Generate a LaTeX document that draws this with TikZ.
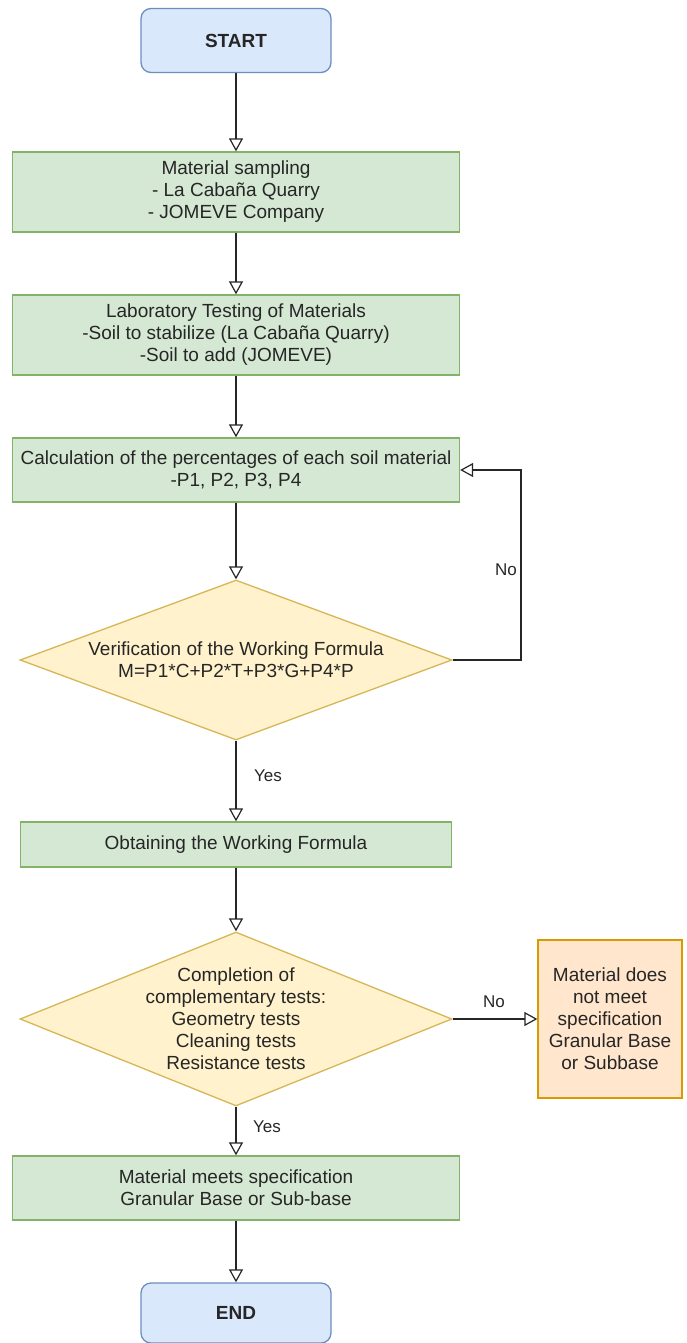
\documentclass[tikz,border=0pt]{standalone}
\usepackage{fontspec}
\setmainfont{Liberation Sans}
\usetikzlibrary{shapes.geometric,arrows.meta}
\definecolor{gfill}{HTML}{D5E8D4}
\definecolor{gdraw}{HTML}{82B366}
\definecolor{bfill}{HTML}{DAE8FC}
\definecolor{bdraw}{HTML}{6C8EBF}
\definecolor{yfill}{HTML}{FFF2CC}
\definecolor{ydraw}{HTML}{D6B656}
\definecolor{ofill}{HTML}{FFE6CC}
\definecolor{odraw}{HTML}{D79B00}
\definecolor{txt}{HTML}{262626}
\begin{document}
\begin{tikzpicture}[x=1pt,y=-1pt,
  font=\fontsize{19}{22}\selectfont, text=txt,
  term/.style={draw=bdraw, fill=bfill, line width=1.3pt, rounded corners=10pt,
    minimum width=190pt, minimum height=64pt, inner sep=0pt, font=\fontsize{19}{22}\selectfont\bfseries},
  proc/.style={draw=gdraw, fill=gfill, line width=1.3pt, minimum width=447pt, inner sep=0pt, align=center},
  dec/.style={draw=ydraw, fill=yfill, line width=1.3pt, diamond, inner sep=0pt, minimum width=432pt},
  dtext/.style={align=center, inner sep=0pt},
  fail/.style={draw=odraw, fill=ofill, line width=1.3pt, minimum width=144pt, minimum height=158pt, inner sep=0pt, align=center},
  arr/.style={draw=black!85, line width=1.2pt, -{Triangle[open, length=13pt, width=14pt]}},
  lbl/.style={font=\fontsize{17}{20}\selectfont, inner sep=0pt}]
\useasboundingbox (0,0) rectangle (686,1343);

\node[term] (start) at (236,40.5) {START};
\node[proc, minimum height=80pt] (b1) at (236,192) {Material sampling\\- La Cabaña Quarry\\- JOMEVE Company};
\node[proc, minimum height=80pt] (b2) at (236,335) {Laboratory Testing of Materials\\-Soil to stabilize (La Cabaña Quarry)\\-Soil to add (JOMEVE)};
\node[proc, minimum height=64pt] (b3) at (236,470) {Calculation of the percentages of each soil material\\-P1, P2, P3, P4};
\node[dec, minimum height=160pt] (d1) at (236,660) {};
\node[dtext] (d1t) at (d1) {Verification of the Working Formula\\M=P1*C+P2*T+P3*G+P4*P};
\node[proc, minimum width=431pt, minimum height=45pt] (b4) at (236,844.5) {Obtaining the Working Formula};
\node[dec, minimum height=174pt] (d2) at (236,1019) {};
\node[dtext] (d2t) at (d2) {Completion of\\complementary tests:\\Geometry tests\\Cleaning tests\\Resistance tests};
\node[fail] (nf) at (610,1019) {Material does\\not meet\\specification\\Granular Base\\or Subbase};
\node[proc, minimum height=64pt] (b5) at (236,1188) {Material meets specification\\Granular Base or Sub-base};
\node[term, minimum height=60pt] (end) at (236,1313) {END};

\draw[arr] (start) -- (b1);
\draw[arr] (b1) -- (b2);
\draw[arr] (b2) -- (b3);
\draw[arr] (b3) -- (d1);
\draw[arr] (d1) -- (b4);
\draw[arr] (b4) -- (d2);
\draw[arr] (d2) -- (b5);
\draw[arr] (b5) -- (end);
\coordinate (fb) at (521,470);
\draw[arr] (d1.east) -| (fb) -- (b3.east);
\draw[arr] (d2.east) -- (nf.west);

\node[lbl] (no1) at (506,570) {No};
\node[lbl] (yes1) at (268,776) {Yes};
\node[lbl] (no2) at (494,1002) {No};
\node[lbl] (yes2) at (267,1127) {Yes};
\end{tikzpicture}
\end{document}
